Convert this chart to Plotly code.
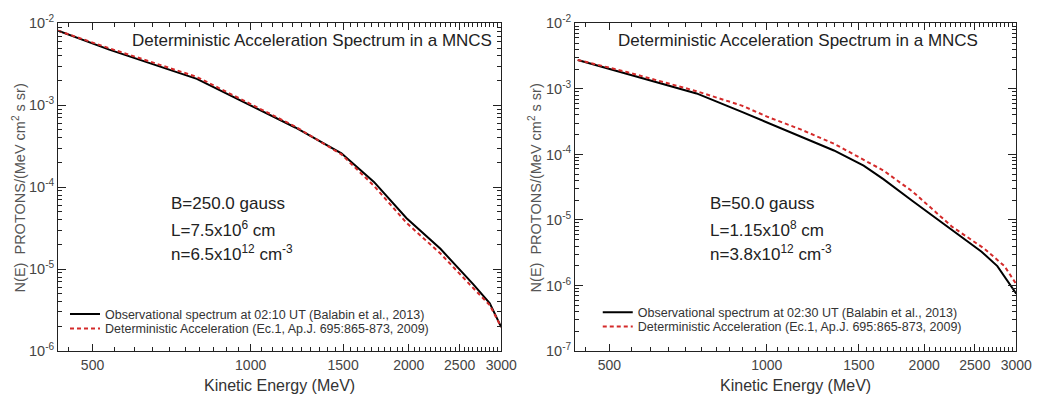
import plotly.graph_objects as go
import numpy as np

W, H = 1050, 403

# ---------------- data ----------------
left_obs_E = [430, 538, 790, 978, 1216, 1489, 1717, 1981, 2298, 2652, 2853, 3000]
left_obs_N = [8.13e-3, 4.78e-3, 2.1e-3, 1.08e-3, 5.36e-4, 2.59e-4, 1.16e-4, 4.18e-5, 1.77e-5, 6.55e-6, 3.83e-6, 1.96e-6]
left_det_E = [430, 538, 790, 978, 1216, 1489, 1717, 1981, 2298, 2652, 2853, 3000]
left_det_N = [8.13e-3, 4.97e-3, 2.22e-3, 1.12e-3, 5.5e-4, 2.52e-4, 1.04e-4, 3.66e-5, 1.55e-5, 5.89e-6, 3.63e-6, 1.96e-6]

right_obs_E = [435, 540, 734, 896, 1006, 1161, 1344, 1532, 1671, 1900, 2225, 2575, 2760, 3000]
right_obs_N = [2.77e-3, 1.71e-3, 8.53e-4, 4.46e-4, 3.05e-4, 1.9e-4, 1.15e-4, 6.73e-5, 4.2e-5, 1.95e-5, 7.6e-6, 3.28e-6, 1.98e-6, 7.5e-7]
right_det_E = [435, 540, 734, 896, 1006, 1161, 1344, 1506, 1671, 1900, 2263, 2609, 2848, 3000]
right_det_N = [2.77e-3, 1.81e-3, 9.23e-4, 5.57e-4, 3.72e-4, 2.41e-4, 1.46e-4, 8.8e-5, 5.69e-5, 2.72e-5, 7.85e-6, 3.63e-6, 1.98e-6, 1.05e-6]

x_tickvals = [500, 1000, 1500, 2000, 2500, 3000]
x_ticktext = ["500", "1000", "1500", "2000", "2500", "3000"]
x_minor = list(range(450, 3001, 50))

left_y_exps = [-2, -3, -4, -5, -6]
right_y_exps = [-2, -3, -4, -5, -6, -7]

panel_title = "Deterministic Acceleration Spectrum in a MNCS"
left_params = ["B=250.0 gauss", "L=7.5x10<sup>6</sup> cm", "n=6.5x10<sup>12</sup> cm<sup>-3</sup>"]
right_params = ["B=50.0 gauss", "L=1.15x10<sup>8</sup> cm", "n=3.8x10<sup>12</sup> cm<sup>-3</sup>"]
left_leg = ["Observational spectrum at 02:10 UT (Balabin et al., 2013)",
            "Deterministic Acceleration (Ec.1, Ap.J. 695:865-873, 2009)"]
right_leg = ["Observational spectrum at 02:30 UT (Balabin et al., 2013)",
             "Deterministic Acceleration (Ec.1, Ap.J. 695:865-873, 2009)"]
ytitle = "N(E)  PROTONS/(MeV cm<sup>2</sup> s sr)"
xtitle = "Kinetic Energy (MeV)"

# ---------------- layout helpers ----------------
def px(x):
    return x / W

def py(y):
    return 1 - y / H

FONT = "Liberation Sans, Arial, Helvetica, sans-serif"
TXT = "#333333"
RED = "#d42a2a"

fig = go.Figure()

fig.add_trace(go.Scatter(x=left_obs_E, y=left_obs_N, mode="lines", name=left_leg[0],
                         line=dict(color="black", width=2), xaxis="x", yaxis="y", legend="legend"))
fig.add_trace(go.Scatter(x=left_det_E, y=left_det_N, mode="lines", name=left_leg[1],
                         line=dict(color=RED, width=2, dash="4px,3px"), xaxis="x", yaxis="y", legend="legend2"))
fig.add_trace(go.Scatter(x=right_obs_E, y=right_obs_N, mode="lines", name=right_leg[0],
                         line=dict(color="black", width=2), xaxis="x2", yaxis="y2", legend="legend3"))
fig.add_trace(go.Scatter(x=right_det_E, y=right_det_N, mode="lines", name=right_leg[1],
                         line=dict(color=RED, width=2, dash="4px,3px"), xaxis="x2", yaxis="y2", legend="legend4"))

minor_y = []
for e in range(-7, -1):
    for m in range(2, 10):
        minor_y.append(m * 10.0 ** e)

def xaxis_cfg(dom, anchor):
    return dict(
        type="log", domain=dom, anchor=anchor,
        range=[np.log10(430), np.log10(3000)],
        tickmode="array", tickvals=x_tickvals, ticktext=x_ticktext,
        ticks="inside", ticklen=7, tickwidth=1, tickcolor="#222",
        showline=True, linecolor="#222", linewidth=1, mirror="ticks",
        showgrid=False, zeroline=False, ticklabelstandoff=1,
        tickfont=dict(family=FONT, size=14, color="#444"),
        minor=dict(tickmode="array", tickvals=x_minor, ticks="inside", ticklen=4,
                   tickcolor="#222", showgrid=False),
    )

def yaxis_cfg(dom, anchor, exps):
    return dict(
        type="log", domain=dom, anchor=anchor,
        range=[min(exps), max(exps)],
        tickmode="array", tickvals=[10.0 ** e for e in exps],
        ticktext=["10<sup>%d</sup>" % e for e in exps],
        ticks="inside", ticklen=8, tickwidth=1, tickcolor="#222",
        showline=True, linecolor="#222", linewidth=1, mirror="ticks",
        showgrid=False, zeroline=False,
        tickfont=dict(family=FONT, size=14.5, color="#444"),
        minor=dict(tickmode="array", tickvals=[v for v in minor_y if 10.0 ** min(exps) < v < 10.0 ** max(exps)],
                   ticks="inside", ticklen=4, tickcolor="#222", showgrid=False),
    )

def leg(x, ytop):
    return dict(x=px(x), y=py(ytop), xanchor="left", yanchor="top",
                font=dict(family=FONT, size=12.5, color=TXT), bgcolor="rgba(0,0,0,0)",
                itemwidth=30, borderwidth=0)

ydom = [py(357), py(14)]
fig.update_layout(
    width=W, height=H, margin=dict(l=0, r=0, t=0, b=0),
    paper_bgcolor="white", plot_bgcolor="white",
    font=dict(family=FONT, color=TXT),
    xaxis=xaxis_cfg([px(59), px(509)], "y"),
    yaxis=yaxis_cfg(ydom, "x", left_y_exps),
    xaxis2=xaxis_cfg([px(584), px(1032)], "y2"),
    yaxis2=yaxis_cfg(ydom, "x2", right_y_exps),
    legend=leg(66, 303),
    legend2=leg(66, 318),
    legend3=leg(607, 301),
    legend4=leg(607, 316),
    showlegend=True,
)

ann = []
# panel titles
for cx in [317, 810]:
    ann.append(dict(text=panel_title, x=px(cx), y=py(32), xref="paper", yref="paper",
                    showarrow=False, xanchor="center", yanchor="middle",
                    font=dict(family=FONT, size=17, color="#222")))
# parameters
for i, yy in enumerate([203, 229, 254]):
    ann.append(dict(text=left_params[i], x=px(172), y=py(yy), xref="paper", yref="paper",
                    showarrow=False, xanchor="left", yanchor="middle",
                    font=dict(family=FONT, size=17, color="#222")))
    ann.append(dict(text=right_params[i], x=px(719), y=py(yy), xref="paper", yref="paper",
                    showarrow=False, xanchor="left", yanchor="middle",
                    font=dict(family=FONT, size=17, color="#222")))
# axis titles
for cx in [284, 808]:
    ann.append(dict(text=xtitle, x=px(cx), y=py(393), xref="paper", yref="paper",
                    showarrow=False, xanchor="center", yanchor="middle",
                    font=dict(family=FONT, size=16, color=TXT)))
for cx in [19, 543]:
    ann.append(dict(text=ytitle, x=px(cx), y=py(186), xref="paper", yref="paper",
                    showarrow=False, xanchor="center", yanchor="middle", textangle=-90,
                    font=dict(family=FONT, size=14.5, color="#555")))
fig.update_layout(annotations=ann)

fig.write_html("out.html")
